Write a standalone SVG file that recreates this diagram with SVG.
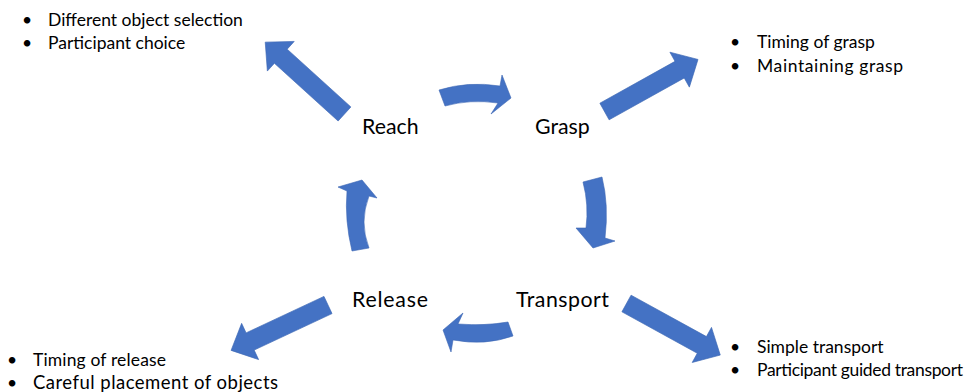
<svg xmlns="http://www.w3.org/2000/svg" xmlns:xlink="http://www.w3.org/1999/xlink" width="979" height="392" viewBox="0 0 979 392">
  <style>
    .arrow { fill: #4472C4; stroke: #3c67b4; stroke-width: 0.6; }
    .node { font-family: "Lato", "Liberation Sans", sans-serif; font-size: 21.3px; fill: #000; }
    .note { font-family: "Lato", "Liberation Sans", sans-serif; font-size: 17.5px; fill: #000; }
  </style>
  <defs>
    <!-- block arrow pointing along +x, tail at the origin -->
    <path id="blockArrow" d="M0,-9.5 L86,-9.5 L86,-20 L107,0 L86,20 L86,9.5 L0,9.5 Z"/>
  </defs>

  <g id="connectors">
    <!-- outward arrows to the note lists -->
    <use xlink:href="#blockArrow" class="arrow" transform="translate(344.5,114) rotate(-137.8)"/>
    <use xlink:href="#blockArrow" class="arrow" transform="translate(604.5,111.5) rotate(-29.1)"/>
    <use xlink:href="#blockArrow" class="arrow" transform="translate(328,305) rotate(154.9)"/>
    <use xlink:href="#blockArrow" class="arrow" transform="translate(626.5,303.5) rotate(28.8)"/>
    <!-- curved cycle arrows -->
    <path class="arrow" d="M439,90 Q468,81 500,86 L502,75 L511,98 L491,114 L498,103 Q470,99 445,106 Z"/>
    <path class="arrow" d="M583,182 Q589,205 586,228 L576,228 L593,248 L615,241 L605,238 Q609,205 602,177 Z"/>
    <path class="arrow" d="M443,330 L463,313 L458,324 Q485,326 508,322 L513,336 Q485,346 453,340 L451,352 Z"/>
    <path class="arrow" d="M352,251 Q344.5,220 347,191 L338,187 L362,180 L377,198 L369,196 Q359,222 369,248 Z"/>
  </g>

  <g id="reach"><text class="node" x="362" y="134">Reach</text></g>
  <g id="grasp"><text class="node" x="535" y="134">Grasp</text></g>
  <g id="transport"><text class="node" x="516" y="307" textLength="93">Transport</text></g>
  <g id="release"><text class="node" x="352" y="307" textLength="76">Release</text></g>

  <g id="reach-notes" class="note">
    <text x="22" y="26">•</text><text x="48" y="26">Different object selection</text>
    <text x="22" y="49">•</text><text x="48" y="49">Participant choice</text>
  </g>
  <g id="grasp-notes" class="note">
    <text x="730" y="48">•</text><text x="757" y="48">Timing of grasp</text>
    <text x="730" y="72">•</text><text x="757" y="72" textLength="146">Maintaining grasp</text>
  </g>
  <g id="release-notes" class="note">
    <text x="7" y="366">•</text><text x="33" y="366" textLength="133">Timing of release</text>
    <text x="7" y="389">•</text><text x="33" y="389" font-size="18.5" textLength="245">Careful placement of objects</text>
  </g>
  <g id="transport-notes" class="note">
    <text x="730" y="353">•</text><text x="757" y="353">Simple transport</text>
    <text x="730" y="376">•</text><text x="757" y="376" textLength="206">Participant guided transport</text>
  </g>
</svg>
